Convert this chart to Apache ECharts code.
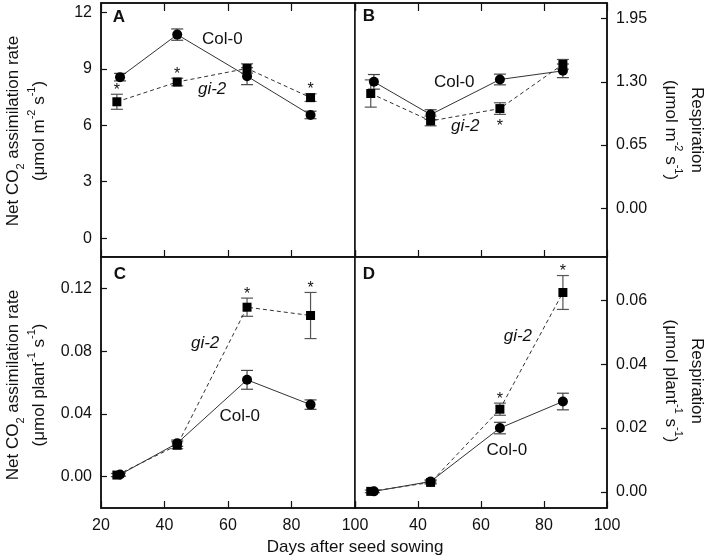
<!DOCTYPE html>
<html><head><meta charset="utf-8">
<script src="https://cdn.jsdelivr.net/npm/echarts@6/dist/echarts.min.js"></script>
<style>html,body{margin:0;padding:0;background:#fff}#c{width:708px;height:559px}</style>
</head><body><div id="c"></div>
<script>
// ---- data ----
const colDays = [26, 44, 66, 86];
const giDays = [25, 44, 66, 86];
const xTicks = [20, 40, 60, 80, 100];

// Panel A: net CO2 assimilation per area
const aCol = [8.56, 10.82, 8.61, 6.55];
const aColErr = [0.2, 0.3, 0.45, 0.2];
const aGi = [7.25, 8.3, 9.02, 7.47];
const aGiErr = [0.4, 0.2, 0.25, 0.2];
const aStar = [1, 1, 0, 1];
const aTicks = [0, 3, 6, 9, 12];

// Panel B: respiration per area
const bCol = [1.30, 0.963, 1.324, 1.413];
const bColErr = [0.075, 0.05, 0.055, 0.07];
const bGi = [1.18, 0.898, 1.025, 1.48];
const bGiErr = [0.14, 0.05, 0.06, 0.05];
const bStar = [0, 0, -1, 0];
const bTicks = [0, 0.65, 1.30, 1.95];

// Panel C: net CO2 assimilation per plant
const cCol = [0.0013, 0.0213, 0.0617, 0.0459];
const cColErr = [0.001, 0.002, 0.006, 0.003];
const cGi = [0.001, 0.020, 0.108, 0.1027];
const cGiErr = [0.001, 0.0022, 0.0058, 0.0147];
const cStar = [0, 0, 1, 1];
const cTicks = [0, 0.04, 0.08, 0.12];

// Panel D: respiration per plant
const dCol = [0.0002, 0.0033, 0.0200, 0.0283];
const dColErr = [0.0004, 0.0005, 0.0018, 0.0026];
const dGi = [0.0002, 0.0030, 0.0259, 0.0624];
const dGiErr = [0.0004, 0.0005, 0.0019, 0.0053];
const dStar = [0, 0, 1, 1];
const dTicks = [0, 0.02, 0.04, 0.06];

// label anchors (data coordinates)
const aLabels = [[58.2, 10.57], [55, 7.91]];
const bLabels = [[51.5, 1.30], [55, 0.846]];
const cLabels = [[63.7, 0.0386], [52.8, 0.0851]];
const dLabels = [[68.2, 0.0131], [71.7, 0.0488]];

// ---- chart ----
const FONT = "'Liberation Sans', Arial, sans-serif";
const INK = '#111';
const panels = [
  {col:aCol, colErr:aColErr, gi:aGi, giErr:aGiErr, star:aStar, ticks:aTicks, min:-1, max:12.5, pos:'left', dec:0, xLab:null, lbl:aLabels},
  {col:bCol, colErr:bColErr, gi:bGi, giErr:bGiErr, star:bStar, ticks:bTicks, min:-0.5, max:2.11, pos:'right', dec:2, xLab:null, lbl:bLabels},
  {col:cCol, colErr:cColErr, gi:cGi, giErr:cGiErr, star:cStar, ticks:cTicks, min:-0.02, max:0.14, pos:'left', dec:2, xLab:xTicks, lbl:cLabels},
  {col:dCol, colErr:dColErr, gi:dGi, giErr:dGiErr, star:dStar, ticks:dTicks, min:-0.005, max:0.0735, pos:'right', dec:2, xLab:xTicks.slice(1), lbl:dLabels}
];
const grids = [
  {left:101, top:3, width:254, height:254},
  {left:355, top:3, width:252, height:254},
  {left:101, top:257, width:254, height:251},
  {left:355, top:257, width:252, height:251}
].map(g => Object.assign({show:true, borderColor:INK, borderWidth:1.5, backgroundColor:'#fff', containLabel:false, outerBoundsMode:'none'}, g));

const xAxes = [], yAxes = [], series = [];
panels.forEach((p, i) => {
  xAxes.push({
    type:'value', gridIndex:i, min:20, max:100, interval:20, position:'bottom',
    axisLine:{show:true, onZero:false, lineStyle:{color:INK, width:1.5}},
    axisTick:{show:true, inside:true, length:7, lineStyle:{color:INK, width:1.2}},
    axisLabel: p.xLab ? {show:true, customValues:p.xLab, margin:10, fontSize:16, fontFamily:FONT, color:INK} : {show:false},
    splitLine:{show:false}
  });
  yAxes.push({
    type:'value', gridIndex:i, min:p.min, max:p.max, position:p.pos,
    axisLine:{show:true, onZero:false, lineStyle:{color:INK, width:1.5}},
    axisTick:{show:true, inside:true, length:6, customValues:p.ticks, lineStyle:{color:INK, width:1.2}},
    axisLabel:{show:true, customValues:p.ticks, margin:9, fontSize:16, fontFamily:FONT, color:INK,
      formatter: v => Number(v).toFixed(p.dec)},
    splitLine:{show:false}
  });
});
// top tick-only axes for panels A and B
[0, 1].forEach(i => {
  xAxes.push({
    type:'value', gridIndex:i, min:20, max:100, interval:20, position:'top',
    axisLine:{show:true, onZero:false, lineStyle:{color:INK, width:1.5}},
    axisTick:{show:true, inside:true, length:8, lineStyle:{color:INK, width:1.2}},
    axisLabel:{show:false}, splitLine:{show:false}
  });
});

function errSeries(i, days, vals, errs, color) {
  return {
    type:'custom', xAxisIndex:i, yAxisIndex:i, z:2, silent:true,
    data: days.map((d, k) => [d, vals[k], errs[k]]),
    encode:{x:0, y:1},
    renderItem(params, api) {
      const x = api.value(0), y = api.value(1), e = api.value(2);
      const t = api.coord([x, y + e]), b = api.coord([x, y - e]);
      const hw = 6, st = {stroke:color, lineWidth:1.2};
      return {type:'group', children:[
        {type:'line', shape:{x1:t[0], y1:t[1], x2:b[0], y2:b[1]}, style:st},
        {type:'line', shape:{x1:t[0]-hw, y1:t[1], x2:t[0]+hw, y2:t[1]}, style:st},
        {type:'line', shape:{x1:b[0]-hw, y1:b[1], x2:b[0]+hw, y2:b[1]}, style:st}
      ]};
    }
  };
}

panels.forEach((p, i) => {
  series.push(errSeries(i, colDays, p.col, p.colErr, '#444'));
  series.push(errSeries(i, giDays, p.gi, p.giErr, '#555'));
  series.push({
    name:'Col-0', type:'line', xAxisIndex:i, yAxisIndex:i, z:3,
    data: colDays.map((d, k) => [d, p.col[k]]),
    symbol:'circle', symbolSize:10, itemStyle:{color:'#000'},
    lineStyle:{color:'#333', width:1, type:'solid'}
  });
  series.push({
    name:'gi-2', type:'line', xAxisIndex:i, yAxisIndex:i, z:3,
    data: giDays.map((d, k) => [d, p.gi[k]]),
    symbol:'rect', symbolSize:9, itemStyle:{color:'#000'},
    lineStyle:{color:'#333', width:1, type:[4, 3]}
  });
  // significance asterisks
  series.push({
    type:'custom', xAxisIndex:i, yAxisIndex:i, z:4, silent:true,
    data: giDays.map((d, k) => [d, p.gi[k], p.giErr[k], p.star[k]]),
    encode:{x:0, y:1},
    renderItem(params, api) {
      const s = api.value(3);
      if (!s) return null;
      const pt = api.coord([api.value(0), api.value(1) + s * api.value(2)]);
      const yy = s > 0 ? pt[1] - 4 : pt[1] + 12;
      return {type:'text', x:pt[0], y:yy, style:{text:'*', fontSize:16, fontFamily:FONT, fill:INK,
        align:'center', verticalAlign:'middle', textAlign:'center', textVerticalAlign:'middle'}};
    }
  });
  // series name annotations
  series.push({
    type:'custom', xAxisIndex:i, yAxisIndex:i, z:4, silent:true,
    data: p.lbl.map(l => [l[0], l[1]]),
    encode:{x:0, y:1},
    renderItem(params, api) {
      const pt = api.coord([api.value(0), api.value(1)]);
      const isGi = params.dataIndex === 1;
      return {type:'text', x:pt[0], y:pt[1], style:{
        text: isGi ? 'gi-2' : 'Col-0', fontSize:17, fontFamily:FONT, fontStyle: isGi ? 'italic' : 'normal',
        fill:INK, align:'center', verticalAlign:'middle', textAlign:'center', textVerticalAlign:'middle'}};
    }
  });
});

const rich = {
  n:{fontSize:17, fontFamily:FONT, lineHeight:26, fill:INK, color:INK},
  sup:{fontSize:11, fontFamily:FONT, lineHeight:14, verticalAlign:'top', fill:INK, color:INK},
  sub:{fontSize:11, fontFamily:FONT, lineHeight:14, verticalAlign:'bottom', fill:INK, color:INK}
};
function title(x, y, rot, text) {
  return {type:'text', x:x, y:y, rotation:rot, silent:true,
    style:{text:text, rich:rich, fontSize:17, fontFamily:FONT, fill:INK,
      align:'center', verticalAlign:'middle', textAlign:'center', textVerticalAlign:'middle'}};
}
function letter(x, y, t) {
  return {type:'text', x:x, y:y, silent:true, z:10,
    style:{text:t, fontSize:17, fontWeight:'bold', fontFamily:FONT, fill:INK,
      align:'center', verticalAlign:'middle', textAlign:'center', textVerticalAlign:'middle'}};
}
const netTop = '{n|Net CO}{sub|2}{n| assimilation rate}\n{n|(μmol m}{sup|-2}{n| s}{sup|-1}{n|)}';
const netBot = '{n|Net CO}{sub|2}{n| assimilation rate}\n{n|(μmol plant}{sup|-1}{n| s}{sup|-1}{n|)}';
const resTop = '{n|Respiration}\n{n|(μmol m}{sup|-2}{n| s}{sup|-1}{n|)}';
const resBot = '{n|Respiration}\n{n|(μmol plant}{sup|-1}{n| s}{sup|-1}{n|)}';

const chart = echarts.init(document.getElementById('c'), null, {renderer:'canvas'});
chart.setOption({
  animation:false,
  backgroundColor:'#fff',
  grid:grids,
  xAxis:xAxes,
  yAxis:yAxes,
  series:series,
  graphic:[
    title(26, 131, Math.PI/2, netTop),
    title(26, 385, Math.PI/2, netBot),
    title(683.5, 130, -Math.PI/2, resTop),
    title(683.5, 381, -Math.PI/2, resBot),
    {type:'text', x:355, y:547, silent:true, style:{text:'Days after seed sowing', fontSize:17, fontFamily:FONT, fill:INK,
      align:'center', verticalAlign:'middle', textAlign:'center', textVerticalAlign:'middle'}},
    letter(119, 17, 'A'), letter(369, 16, 'B'), letter(120, 274, 'C'), letter(369, 274, 'D')
  ]
});
</script></body></html>
